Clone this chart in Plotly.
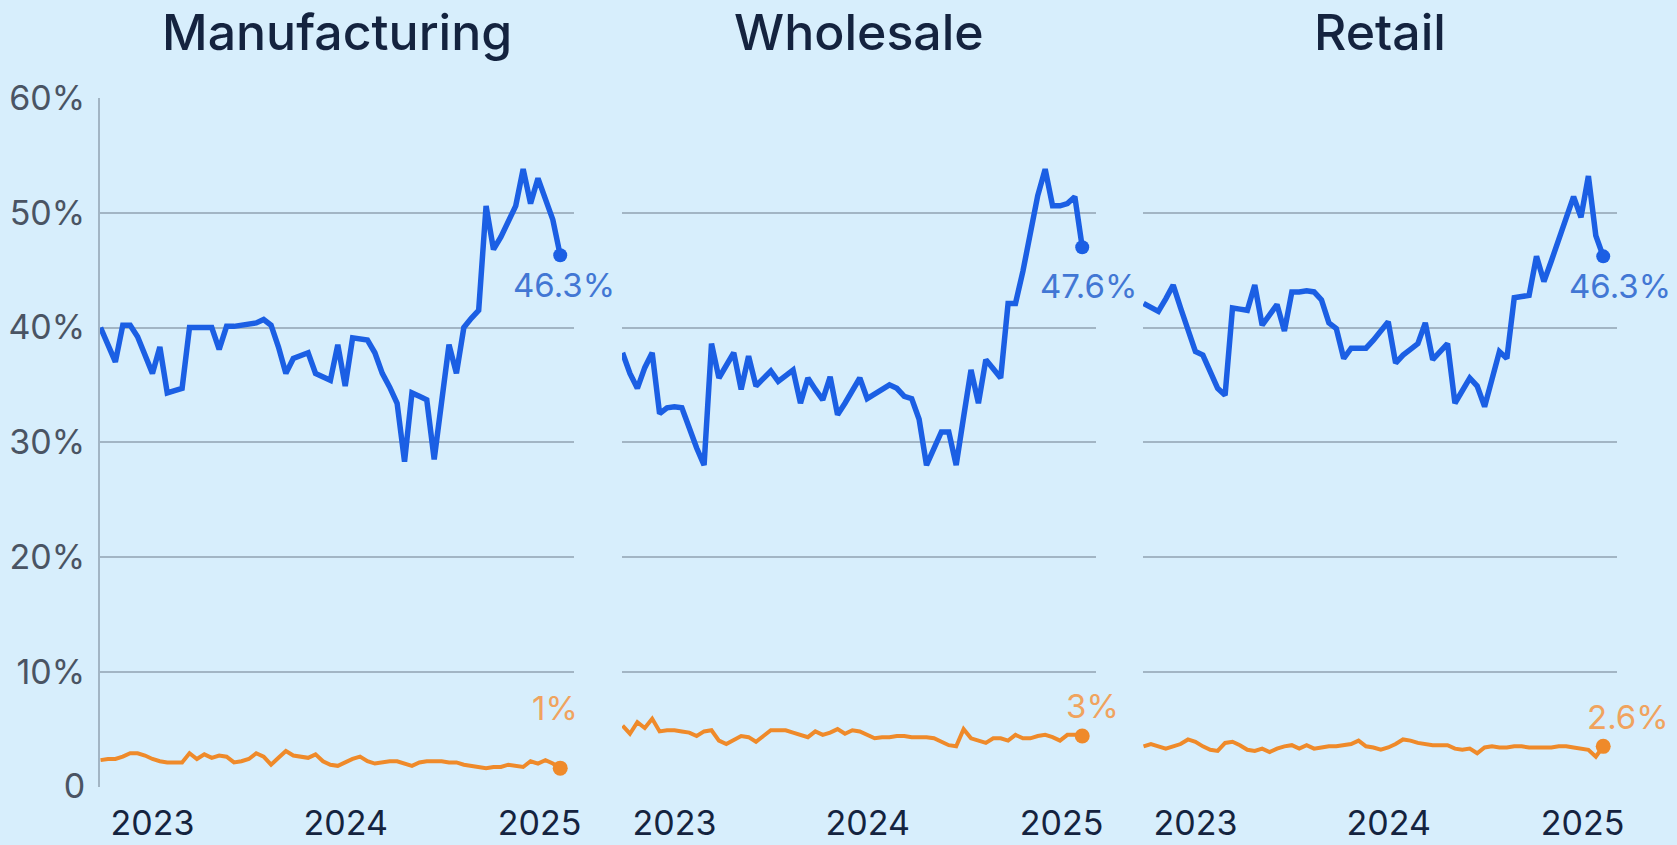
import plotly.graph_objects as go
import pandas as pd

# ---------------- data ----------------
dates = pd.date_range("2022-09-25", periods=63, freq="14D")
sectors = ["Manufacturing", "Wholesale", "Retail"]
year_ticks = ["2023-01-01", "2024-01-01", "2025-01-01"]
year_labels = ["2023", "2024", "2025"]
y_ticks = [0, 10, 20, 30, 40, 50, 60]
y_labels = ["0", "10%", "20%", "30%", "40%", "50%", "60%"]

manufacturing_blue = [
    40.0, 38.5, 37.0, 40.2, 40.2, 39.2, 37.6, 36.0, 38.3, 34.3,
    34.5, 34.7, 40.0, 40.0, 40.0, 40.0, 38.1, 40.1, 40.1, 40.2,
    40.2, 40.4, 40.7, 40.2, 38.3, 36.0, 37.3, 37.6, 37.8, 36.0,
    35.7, 35.4, 38.5, 34.9, 39.1, 39.0, 38.9, 37.8, 36.0, 34.8,
    33.4, 28.3, 34.3, 34.0, 33.7, 28.5, 33.5, 38.5, 36.0, 40.0,
    40.8, 41.5, 50.6, 46.8, 47.9, 49.2, 50.6, 53.8, 50.8, 53.0,
    51.2, 49.4, 46.3]
wholesale_blue = [
    37.8, 36.0, 34.7, 36.5, 37.8, 32.5, 33.0, 33.1, 33.0, 31.1,
    29.5, 28.0, 38.6, 35.6, 36.7, 37.8, 34.6, 37.5, 34.9, 35.5,
    36.2, 35.3, 35.8, 36.3, 33.4, 35.6, 34.6, 33.7, 35.7, 32.4,
    33.4, 34.4, 35.6, 33.8, 34.2, 34.7, 35.0, 34.7, 34.0, 33.8,
    32.0, 28.0, 29.5, 30.9, 30.9, 28.0, 32.2, 36.3, 33.4, 37.2,
    36.4, 35.6, 42.1, 42.1, 44.9, 48.1, 51.5, 53.8, 50.6, 50.6,
    50.8, 51.4, 47.0]
retail_blue = [
    42.1, 41.8, 41.4, 42.5, 43.7, 41.7, 39.6, 37.9, 37.6, 36.1,
    34.7, 34.1, 41.7, 41.6, 41.5, 43.7, 40.2, 41.1, 42.0, 39.7,
    43.1, 43.1, 43.2, 43.1, 42.4, 40.4, 39.9, 37.3, 38.2, 38.2,
    38.2, 38.9, 39.7, 40.5, 36.9, 37.6, 38.1, 38.6, 40.4, 37.2,
    37.9, 38.6, 33.4, 34.5, 35.6, 34.9, 33.1, 35.5, 37.9, 37.3,
    42.6, 42.7, 42.8, 46.2, 44.0, 45.8, 47.6, 49.5, 51.4, 49.6,
    53.2, 48.0, 46.2]

manufacturing_orange = [
    2.3, 2.4, 2.4, 2.6, 2.9, 2.9, 2.7, 2.4, 2.2, 2.1,
    2.1, 2.1, 2.9, 2.4, 2.8, 2.5, 2.7, 2.6, 2.1, 2.2,
    2.4, 2.9, 2.6, 1.9, 2.5, 3.1, 2.7, 2.6, 2.5, 2.8,
    2.2, 1.9, 1.8, 2.1, 2.4, 2.6, 2.2, 2.0, 2.1, 2.2,
    2.2, 2.0, 1.8, 2.1, 2.2, 2.2, 2.2, 2.1, 2.1, 1.9,
    1.8, 1.7, 1.6, 1.7, 1.7, 1.9, 1.8, 1.7, 2.2, 2.0,
    2.3, 2.0, 1.6]
wholesale_orange = [
    5.3, 4.6, 5.6, 5.1, 5.9, 4.8, 4.9, 4.9, 4.8, 4.7,
    4.4, 4.8, 4.9, 4.0, 3.7, 4.1, 4.4, 4.3, 3.9, 4.4,
    4.9, 4.9, 4.9, 4.7, 4.5, 4.3, 4.8, 4.5, 4.7, 5.0,
    4.6, 4.9, 4.8, 4.5, 4.2, 4.3, 4.3, 4.4, 4.4, 4.3,
    4.3, 4.3, 4.2, 3.9, 3.6, 3.5, 5.0, 4.2, 4.0, 3.8,
    4.2, 4.2, 4.0, 4.5, 4.2, 4.2, 4.4, 4.5, 4.3, 4.0,
    4.5, 4.5, 4.4]
retail_orange = [
    3.5, 3.7, 3.5, 3.3, 3.5, 3.7, 4.1, 3.9, 3.5, 3.2,
    3.1, 3.8, 3.9, 3.6, 3.2, 3.1, 3.3, 3.0, 3.3, 3.5,
    3.6, 3.3, 3.6, 3.3, 3.4, 3.5, 3.5, 3.6, 3.7, 4.0,
    3.5, 3.4, 3.2, 3.4, 3.7, 4.1, 4.0, 3.8, 3.7, 3.6,
    3.6, 3.6, 3.3, 3.2, 3.3, 2.9, 3.4, 3.5, 3.4, 3.4,
    3.5, 3.5, 3.4, 3.4, 3.4, 3.4, 3.5, 3.5, 3.4, 3.3,
    3.2, 2.6, 3.5]

blue_series = [manufacturing_blue, wholesale_blue, retail_blue]
orange_series = [manufacturing_orange, wholesale_orange, retail_orange]
blue_end_labels = ["46.3%", "47.6%", "46.3%"]
orange_end_labels = ["1%", "3%", "2.6%"]

# ---------------- style ----------------
BG = "#d7eefc"
BLUE = "#1b5fe4"
ORANGE = "#ef8a2a"
BLUE_TXT = "#4277d4"
ORANGE_TXT = "#f0a35e"
GRID = "#a2b5c4"
NAVY = "#14233f"
GRAY = "#4a5463"

W, H = 1677, 845
x_domains = [(100 / W, 574 / W), (622 / W, 1096 / W), (1143 / W, 1617 / W)]
y_domain = ((845 - 786.5) / H, (845 - 98) / H)
blue_shift = [(4, -30), (6, -39), (17, -30)]
orange_shift = [(-5, 60), (10, 30), (25, 29)]

fig = go.Figure()
annotations = []

for k in range(3):
    sfx = "" if k == 0 else str(k + 1)
    xa, ya = "x" + sfx, "y" + sfx
    blue = blue_series[k]
    orange = orange_series[k]

    fig.add_trace(go.Scatter(x=dates, y=orange, mode="lines",
                             line=dict(color=ORANGE, width=4),
                             xaxis=xa, yaxis=ya, hoverinfo="skip"))
    fig.add_trace(go.Scatter(x=dates, y=blue, mode="lines",
                             line=dict(color=BLUE, width=5.5),
                             xaxis=xa, yaxis=ya, hoverinfo="skip"))
    fig.add_trace(go.Scatter(x=[dates[-1]], y=[blue[-1]], mode="markers",
                             marker=dict(color=BLUE, size=14),
                             xaxis=xa, yaxis=ya, cliponaxis=False))
    fig.add_trace(go.Scatter(x=[dates[-1]], y=[orange[-1]], mode="markers",
                             marker=dict(color=ORANGE, size=15),
                             xaxis=xa, yaxis=ya, cliponaxis=False))

    annotations.append(dict(x=dates[-1], y=blue[-1], xref=xa, yref=ya,
                            text=blue_end_labels[k], showarrow=False,
                            xshift=blue_shift[k][0], yshift=blue_shift[k][1],
                            font=dict(family="Inter", size=33, color=BLUE_TXT)))
    annotations.append(dict(x=dates[-1], y=orange[-1], xref=xa, yref=ya,
                            text=orange_end_labels[k], showarrow=False,
                            xshift=orange_shift[k][0], yshift=orange_shift[k][1],
                            font=dict(family="Inter", size=33, color=ORANGE_TXT)))
    annotations.append(dict(x=(x_domains[k][0] + x_domains[k][1]) / 2, y=1 - 32 / H,
                            xref="paper", yref="paper", text=sectors[k],
                            showarrow=False, xanchor="center", yanchor="middle",
                            font=dict(family="Inter", size=50, color=NAVY, weight=500)))

    fig.layout["xaxis" + sfx] = dict(
        domain=list(x_domains[k]), anchor=ya, type="date", automargin=False,
        range=["2022-09-24", "2025-03-07"],
        tickvals=year_ticks, ticktext=year_labels,
        showgrid=False, showline=False, zeroline=False, ticks="",
        ticklabelstandoff=13,
        tickfont=dict(family="Inter", size=34, color=NAVY))
    fig.layout["yaxis" + sfx] = dict(
        domain=list(y_domain), anchor=xa, range=[0, 60], automargin=False,
        tickvals=y_ticks, ticktext=y_labels,
        showticklabels=(k == 0), showgrid=True, gridcolor=GRID, gridwidth=2,
        zeroline=False, showline=(k == 0), linecolor=GRID, linewidth=2,
        ticks="", ticklabelstandoff=6,
        tickfont=dict(family="Inter", size=34, color=GRAY))

fig.update_layout(width=W, height=H, margin=dict(l=0, r=0, t=0, b=0, autoexpand=False),
                  paper_bgcolor=BG, plot_bgcolor=BG, showlegend=False,
                  annotations=annotations)

fig.write_html("out.html", config={"displayModeBar": False},
               post_script="document.body.style.margin='0';document.body.style.overflow='hidden';")
